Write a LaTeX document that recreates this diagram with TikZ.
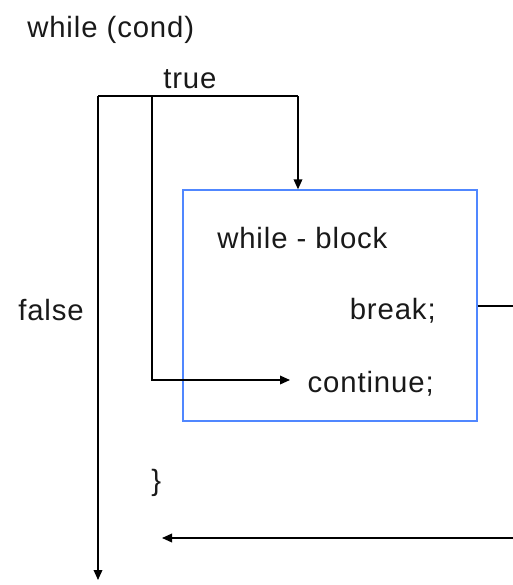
\documentclass[tikz,border=0pt]{standalone}
\usepackage{fontspec}
\setmainfont[LetterSpace=3]{Liberation Sans}
\usetikzlibrary{arrows.meta}
\definecolor{boxblue}{RGB}{80,135,255}
\definecolor{ink}{RGB}{25,25,25}
\begin{document}
\begin{tikzpicture}[x=0.75pt,y=-0.75pt,
  lbl/.style={inner sep=0pt,text=ink,font=\fontsize{22}{26}\selectfont},
  flow/.style={line width=1pt,draw=black},
  tip/.style={-{Triangle[length=7.5pt,width=6.5pt]}},
  blockbox/.style={draw=boxblue,line width=1pt,inner sep=0pt,
    minimum width=220.5pt,minimum height=173.25pt}]
\useasboundingbox (0,0) rectangle (513,585);

% texts
\node[lbl,anchor=base west] (cond) at (27,38) {while (cond)};
\node[lbl,anchor=base west] (truelbl) at (163,89) {true};
\node[lbl,anchor=base west] (falselbl) at (18,320) {false};
\node[blockbox] (blk) at (330,305.5) {};
\node[lbl,anchor=base west] (blkname) at (217,248) {while - block};
\node[lbl,anchor=base east] (brk) at (436,319) {break;};
\node[lbl,anchor=base east] (cont) at (434,392) {continue;};
\node[lbl,anchor=base west] (brace) at (151,490) {\}};

% branch points
\coordinate (fl) at (98,96);
\coordinate (cl) at (152,96);
\coordinate (tr) at (298,96);
\coordinate (flend) at (98,580);
\coordinate (clturn) at (152,380);
\coordinate (clend) at (290,380);
\coordinate (brkout) at (513,306);
\coordinate (retin) at (513,538);
\coordinate (retend) at (162,538);

% condition fan-out
\draw[flow] (fl) -- (tr);
\draw[flow,tip] (tr) -- (tr |- blk.north);
\draw[flow,tip] (fl) -- (flend);
\draw[flow,tip] (cl) -- (clturn) -- (clend);

% break exit and return
\draw[flow] (blk.east |- brkout) -- (brkout);
\draw[flow,tip] (retin) -- (retend);
\end{tikzpicture}
\end{document}
